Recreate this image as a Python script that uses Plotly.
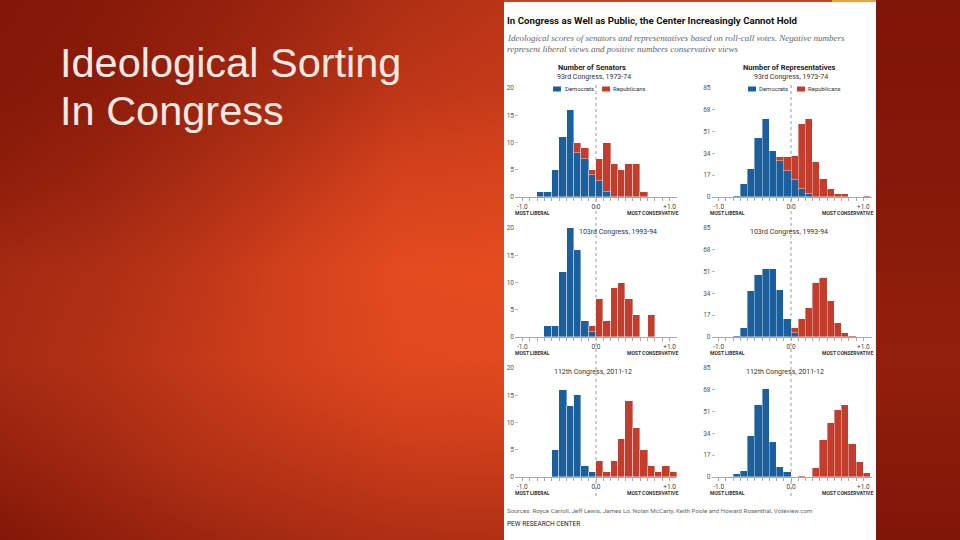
import plotly.graph_objects as go

# ---------------- data ----------------
BIN_LEFT = [-0.8, -0.7, -0.6, -0.5, -0.4, -0.3, -0.2, -0.1, 0.0, 0.1,
            0.2, 0.3, 0.4, 0.5, 0.6, 0.7, 0.8, 0.9, 1.0]

SEN93_D = [1, 1, 5, 11, 16, 8, 7, 4, 3, 1, 0, 0, 0, 0, 0, 0, 0, 0, 0]
SEN93_R = [0, 0, 0, 0, 0, 2, 2, 1, 4, 9, 6, 5, 6, 6, 1, 0, 0, 0, 0]
HOU93_D = [1, 10, 22, 46, 61, 36, 28, 20, 13, 6, 2, 0, 0, 0, 0, 0, 0, 0, 0]
HOU93_R = [0, 0, 0, 0, 0, 0, 3, 11, 19, 51, 59, 27, 14, 6, 2, 2, 0, 0, 1]

SEN103_D = [0, 2, 2, 12, 20, 16, 3, 1, 0, 0, 0, 0, 0, 0, 0, 0, 0, 0, 0]
SEN103_R = [0, 0, 0, 0, 0, 0, 0, 1, 7, 3, 9, 10, 7, 4, 0, 4, 0, 0, 0]
HOU103_D = [1, 7, 36, 48, 53, 53, 37, 14, 3, 0, 0, 0, 0, 0, 0, 0, 0, 0, 0]
HOU103_R = [0, 0, 0, 0, 0, 0, 0, 0, 4, 14, 23, 42, 46, 28, 11, 3, 1, 0, 0]

SEN112_D = [0, 0, 5, 16, 13, 15, 2, 1, 0, 0, 0, 0, 0, 0, 0, 0, 0, 0, 0]
SEN112_R = [0, 0, 0, 0, 0, 0, 0, 0, 3, 1, 3, 7, 14, 9, 5, 2, 1, 2, 1]
HOU112_D = [2, 5, 32, 56, 69, 27, 8, 4, 0, 0, 0, 0, 0, 0, 0, 0, 0, 0, 0]
HOU112_R = [0, 0, 0, 0, 0, 0, 0, 0, 0, 1, 0, 7, 29, 42, 52, 56, 26, 12, 3]

SENATE_TICKS = [0, 5, 10, 15, 20]
HOUSE_TICKS = [0, 17, 34, 51, 68, 85]
X_TICKS = [-1.0, -0.9, -0.8, -0.7, -0.6, -0.5, -0.4, -0.3, -0.2, -0.1, 0.0,
           0.1, 0.2, 0.3, 0.4, 0.5, 0.6, 0.7, 0.8, 0.9, 1.0]
X_TICKTEXT = ["-1.0"] + [""] * 9 + ["0.0"] + [""] * 9 + ["+1.0"]

ROW_TITLES = ["93rd Congress, 1973-74", "103rd Congress, 1993-94", "112th Congress, 2011-12"]

# background gradient grid (decoration)
BG_X = [-10, 100, 200, 300, 400, 514]
BG_Y = [-10, 90, 180, 270, 360, 450, 550]
BG_Z = [
    [0.05, 0.10, 0.18, 0.28, 0.42, 0.52],
    [0.08, 0.14, 0.25, 0.38, 0.55, 0.62],
    [0.16, 0.26, 0.40, 0.57, 0.76, 0.80],
    [0.34, 0.42, 0.56, 0.75, 0.95, 0.97],
    [0.36, 0.46, 0.60, 0.75, 0.90, 0.92],
    [0.22, 0.34, 0.48, 0.57, 0.66, 0.68],
    [0.03, 0.16, 0.26, 0.34, 0.40, 0.42],
]
BG2_X = [866, 970]
BG2_Z = [[0.04, 0.04], [0.06, 0.06], [0.09, 0.09], [0.15, 0.15],
         [0.19, 0.19], [0.12, 0.12], [0.04, 0.04]]
BG_SCALE = [[0, "#7a1205"], [0.35, "#a52a12"], [0.7, "#cf3f1b"], [1, "#e84d20"]]

BLUE = "#1b5f9c"
RED = "#c23d2c"

W, H = 960, 540


def px(x):
    return x / W


def py(y):
    return 1 - y / H


fig = go.Figure()

fig.add_trace(go.Heatmap(x=BG_X, y=BG_Y, z=BG_Z, xaxis="x", yaxis="y",
                         colorscale=BG_SCALE, zmin=0, zmax=1, zsmooth="best",
                         showscale=False, hoverinfo="skip"))
fig.add_trace(go.Heatmap(x=BG2_X, y=BG_Y, z=BG2_Z, xaxis="x8", yaxis="y8",
                         colorscale=BG_SCALE, zmin=0, zmax=1, zsmooth="best",
                         showscale=False, hoverinfo="skip"))

centers = [b + 0.05 for b in BIN_LEFT]

SEN_DOM = [px(515), px(677)]
HOU_DOM = [px(711.5), px(872)]
ROW_PX = [(88, 197), (228, 337), (368, 477)]

panels = [
    (2, SEN93_D, SEN93_R, "sen", 0),
    (3, HOU93_D, HOU93_R, "hou", 0),
    (4, SEN103_D, SEN103_R, "sen", 1),
    (5, HOU103_D, HOU103_R, "hou", 1),
    (6, SEN112_D, SEN112_R, "sen", 2),
    (7, HOU112_D, HOU112_R, "hou", 2),
]

layout_axes = {}
for idx, dem, rep, kind, row in panels:
    xa, ya = f"x{idx}", f"y{idx}"
    for vals, col in ((dem, BLUE), (rep, RED)):
        fig.add_trace(go.Bar(x=centers, y=vals, width=0.1, xaxis=xa, yaxis=ya,
                             marker=dict(color=col, line=dict(color="rgba(255,255,255,0.55)", width=0.7)),
                             showlegend=False, hoverinfo="skip"))
    top, bot = ROW_PX[row]
    if kind == "sen":
        xdom, xr, yr, yt = SEN_DOM, [-1.1, 1.1], [0, 20], SENATE_TICKS
    else:
        xdom, xr, yr, yt = HOU_DOM, [-1.1, 1.12], [0, 85], HOUSE_TICKS
    layout_axes[f"xaxis{idx}"] = dict(
        domain=xdom, range=xr, anchor=ya, showgrid=False, zeroline=False,
        showline=True, linecolor="#a8a8a8", linewidth=1,
        ticks="outside", ticklen=3, tickcolor="#a8a8a8", tickwidth=1,
        tickvals=X_TICKS, ticktext=X_TICKTEXT,
        tickfont=dict(family="Roboto", size=6.5, color="#444"), fixedrange=True)
    layout_axes[f"yaxis{idx}"] = dict(
        domain=[py(bot), py(top)], range=yr, anchor=xa, showgrid=False,
        zeroline=False, showline=False, ticks="inside", ticklen=3,
        tickcolor="#bbbbbb", tickvals=yt,
        tickfont=dict(family="Roboto", size=6.5, color="#555"), fixedrange=True)

fig.update_layout(
    width=W, height=H, margin=dict(l=0, r=0, t=0, b=0, pad=0, autoexpand=False),
    paper_bgcolor="white", plot_bgcolor="rgba(0,0,0,0)",
    barmode="stack", bargap=0, showlegend=False,
    xaxis=dict(domain=[0, px(504)], range=[0, 504], visible=False, fixedrange=True),
    yaxis=dict(domain=[0, 1], range=[540, 0], visible=False, fixedrange=True),
    xaxis8=dict(domain=[px(876), 1], range=[876, 960], visible=False, fixedrange=True, anchor="y8"),
    yaxis8=dict(domain=[0, 1], range=[540, 0], visible=False, fixedrange=True, anchor="x8"),
    **layout_axes,
)

shapes = []
# thin strip above the white panel
shapes.append(dict(type="rect", xref="paper", yref="paper", x0=px(504), x1=px(876),
                   y0=py(2), y1=1, fillcolor="#c8441d", line=dict(width=0), layer="above"))
shapes.append(dict(type="rect", xref="paper", yref="paper", x0=px(832), x1=px(876),
                   y0=py(2), y1=1, fillcolor="#e9a33c", line=dict(width=0), layer="above"))
# dotted centre lines
for xa in ("x2", "x3"):
    shapes.append(dict(type="line", xref=xa, yref="paper", x0=0, x1=0,
                       y0=py(496), y1=py(84), line=dict(color="#9a9a9a", width=1, dash="dot"),
                       layer="below"))
# legend swatches
for x0, col in ((553, BLUE), (602, RED), (748, BLUE), (797, RED)):
    shapes.append(dict(type="rect", xref="paper", yref="paper", x0=px(x0), x1=px(x0 + 8),
                       y0=py(91.5), y1=py(86.5), fillcolor=col, line=dict(width=0)))
fig.update_layout(shapes=shapes)

ann = []


def add(text, x, y, size, color="#222", family="Roboto", xanchor="center", bold=False, italic=False):
    t = text
    if bold:
        t = f"<b>{t}</b>"
    if italic:
        t = f"<i>{t}</i>"
    ann.append(dict(text=t, x=px(x), y=py(y), xref="paper", yref="paper",
                    xanchor=xanchor, yanchor="middle", showarrow=False,
                    font=dict(family=family, size=size, color=color)))


# slide title
add("Ideological Sorting", 58, 62, 41.5, color="#fbe8e2", family="Liberation Sans", xanchor="left")
add("In Congress", 58, 111, 41.5, color="#fbe8e2", family="Liberation Sans", xanchor="left")

# chart title and subtitle
add("In Congress as Well as Public, the Center Increasingly Cannot Hold", 505, 21, 9.7,
    color="#111", xanchor="left", bold=True)
add("Ideological scores of senators and representatives based on roll-call votes. Negative numbers",
    505, 38, 9, color="#666", family="Liberation Serif", xanchor="left", italic=True)
add("represent liberal views and positive numbers conservative views",
    505, 49, 9, color="#666", family="Liberation Serif", xanchor="left", italic=True)

# column headers
add("Number of Senators", 592, 68, 7.5, bold=True)
add("Number of Representatives", 789, 68, 7.5, bold=True)
add(ROW_TITLES[0], 594, 77, 7, color="#333")
add(ROW_TITLES[0], 791, 77, 7, color="#333")

# legend texts
for x, t in ((563, "Democrats"), (611, "Republicans"), (757, "Democrats"), (806, "Republicans")):
    add(t, x, 89, 6, color="#333", xanchor="left")

# row titles
add(ROW_TITLES[1], 618, 232, 7, color="#333")
add(ROW_TITLES[1], 789, 232, 7, color="#333")
add(ROW_TITLES[2], 593, 372, 7, color="#333")
add(ROW_TITLES[2], 785, 372, 7, color="#333")

# axis end labels
for yb in (213, 353, 493):
    add("MOST LIBERAL", 532, yb, 5, color="#333", bold=True)
    add("MOST CONSERVATIVE", 652, yb, 5, color="#333", bold=True)
    add("MOST LIBERAL", 727, yb, 5, color="#333", bold=True)
    add("MOST CONSERVATIVE", 847, yb, 5, color="#333", bold=True)

# source
add("Sources: Royce Carroll, Jeff Lewis, James Lo, Nolan McCarty, Keith Poole and Howard Rosenthal, Voteview.com",
    505, 511, 6.2, color="#666", xanchor="left")
add("PEW RESEARCH CENTER", 505, 524, 6.5, color="#222", xanchor="left")

fig.update_layout(annotations=ann)

fig.write_html("out.html", config={"displayModeBar": False},
               post_script="document.body.style.margin='0';document.body.style.padding='0';"
                           "document.body.style.overflow='hidden';"
                           "document.body.style.background='#7c1406';"
                           "document.documentElement.style.margin='0';")
